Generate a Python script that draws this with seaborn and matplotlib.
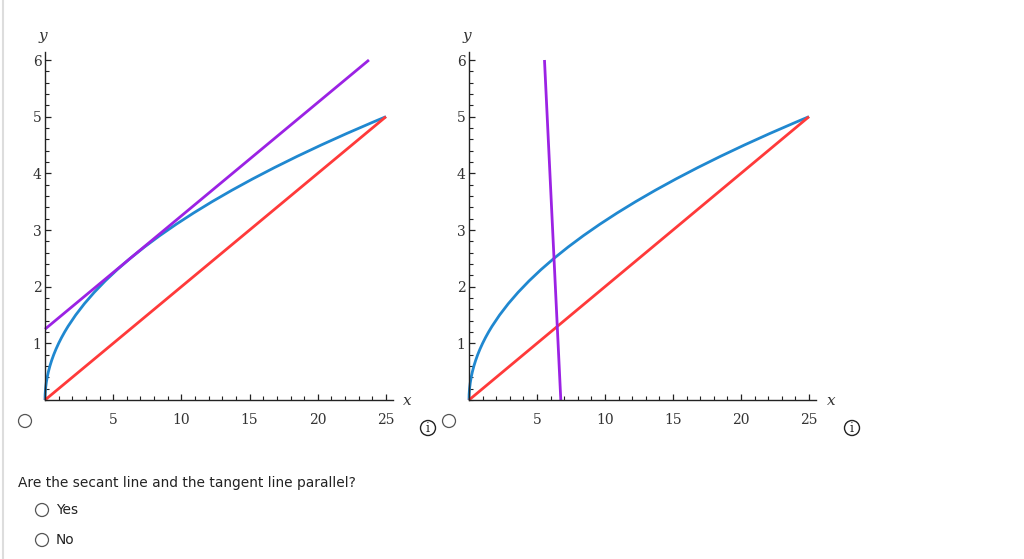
import matplotlib
matplotlib.use("Agg")
import matplotlib.pyplot as plt
import seaborn as sns
import pandas as pd
from matplotlib.patches import Circle
from matplotlib.ticker import MultipleLocator
from matplotlib.lines import Line2D

sns.set_style("white")
plt.rcParams['font.family'] = ['DejaVu Sans']

# curve y = sqrt(x)
curve_x = [0, 0.01, 0.04, 0.09, 0.16, 0.25, 0.36, 0.49, 0.64, 0.81, 1.0, 1.21, 1.44, 1.69,
           2.25, 2.89, 3.61, 4.41, 5.29, 6.25, 7.29, 8.41, 9.61, 10.89, 12.25, 13.69,
           15.21, 16.81, 18.49, 20.25, 22.09, 24.01, 25]
curve_y = [0, 0.1, 0.2, 0.3, 0.4, 0.5, 0.6, 0.7, 0.8, 0.9, 1.0, 1.1, 1.2, 1.3,
           1.5, 1.7, 1.9, 2.1, 2.3, 2.5, 2.7, 2.9, 3.1, 3.3, 3.5, 3.7,
           3.9, 4.1, 4.3, 4.5, 4.7, 4.9, 5.0]
secant_x = [0, 25]
secant_y = [0, 5]
tangent_x = [0, 23.75]
tangent_y = [1.25, 6]
normal_x = [5.55, 6.75]
normal_y = [6, 0]

x_ticks = [5, 10, 15, 20, 25]
y_ticks = [1, 2, 3, 4, 5, 6]

BLUE = "#2088d0"
RED = "#ff3a3a"
PURPLE = "#9b22e4"
TXT = "#333333"

W, H = 1024, 559
fig = plt.figure(figsize=(W / 100, H / 100), dpi=100)

def px_axes(x0, x25):
    xmax = 25.5
    pxu = (x25 - x0) / 25.0
    right = x0 + xmax * pxu
    bottom = 400
    ymax = 6.14
    pyu = (400 - 60) / 6.0
    top = bottom - ymax * pyu
    ax = fig.add_axes([x0 / W, (H - bottom) / H, (right - x0) / W, (bottom - top) / H])
    ax.set_xlim(0, xmax)
    ax.set_ylim(0, ymax)
    return ax

def style(ax):
    ax.patch.set_alpha(0)
    for s in ["top", "right"]:
        ax.spines[s].set_visible(False)
    for s in ["left", "bottom"]:
        ax.spines[s].set_color("#222222")
        ax.spines[s].set_linewidth(1.0)
    ax.set_xticks(x_ticks)
    ax.set_yticks(y_ticks)
    ax.xaxis.set_minor_locator(MultipleLocator(1))
    ax.yaxis.set_minor_locator(MultipleLocator(0.2))
    ax.tick_params(axis="both", which="both", bottom=True, left=True, top=False, right=False)
    ax.tick_params(axis="both", which="major", direction="in", length=4.2, width=0.9,
                   color="#222222", labelcolor=TXT, labelsize=10)
    ax.tick_params(axis="both", which="minor", direction="in", length=2.8, width=0.8,
                   color="#222222")
    ax.tick_params(axis="x", which="major", pad=9)
    ax.tick_params(axis="y", which="major", pad=2.5)
    for lab in ax.get_xticklabels() + ax.get_yticklabels():
        lab.set_fontfamily("DejaVu Serif")
    ax.set_xlabel("")
    ax.set_ylabel("")

def draw(ax, px, py):
    sns.lineplot(x=curve_x, y=curve_y, ax=ax, color=BLUE, lw=2, estimator=None)
    sns.lineplot(x=secant_x, y=secant_y, ax=ax, color=RED, lw=2, estimator=None)
    sns.lineplot(x=px, y=py, ax=ax, color=PURPLE, lw=2, estimator=None, sort=False)
    style(ax)
    for ln in ax.get_lines():
        ln.set_clip_on(False)
        ln.set_solid_capstyle("butt")

ax1 = px_axes(45, 386)
draw(ax1, tangent_x, tangent_y)
ax2 = px_axes(469, 809)
draw(ax2, normal_x, normal_y)

def ftext(x, y, s, **kw):
    fig.text(x / W, 1 - y / H, s, **kw)

for ox in (0, 424):
    ftext(407 + ox, 401, "x", family="DejaVu Serif", style="italic", fontsize=11,
          color="#333333", ha="center", va="center")
    ftext(43 + ox, 36, "y", family="DejaVu Serif", style="italic", fontsize=11,
          color="#333333", ha="center", va="center")

def circ(x, y, r, lw=0.9, ec="#555555"):
    fig.add_artist(Circle((x / 100, (H - y) / 100), r / 100, transform=fig.dpi_scale_trans,
                          fill=False, ec=ec, lw=lw))

circ(25, 421, 6.5)
circ(449, 421, 6.5)
circ(42, 510, 6.5)
circ(42, 540, 6.5)
for cx in (428, 852):
    circ(cx, 428, 7.5, lw=1.0, ec="#222222")
    ftext(cx, 429, "i", family="DejaVu Serif", fontsize=9, color="#222222",
          ha="center", va="center")

fig.add_artist(Line2D([3 / W, 3 / W], [0, 1], transform=fig.transFigure, color="#dddddd", lw=1.5))

ftext(18, 483, "Are the secant line and the tangent line parallel?", fontsize=9.9,
      color="#222222", ha="left", va="center")
ftext(56, 510, "Yes", fontsize=9.9, color="#222222", ha="left", va="center")
ftext(56, 540, "No", fontsize=9.9, color="#222222", ha="left", va="center")

fig.savefig("out.png", dpi=100)
